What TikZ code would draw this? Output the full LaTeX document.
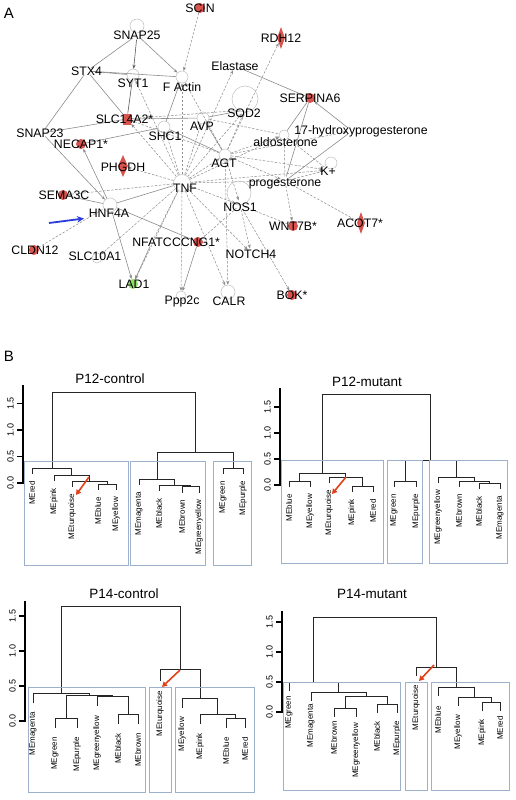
\documentclass[tikz,border=0pt]{standalone}
\usepackage{fontspec}
\setmainfont{Liberation Sans}
\usetikzlibrary{arrows.meta,backgrounds,shapes.geometric}
\definecolor{nodered}{HTML}{D9534F}
\definecolor{nodegreen}{HTML}{8FE06A}
\definecolor{boxblue}{HTML}{9DB1CC}
\definecolor{arrred}{HTML}{E0401A}
\definecolor{arrblue}{HTML}{2B3BE0}
\definecolor{edgegray}{HTML}{8C8C8C}
\newcommand{\mrg}[5]{\draw[dend] (#1,#2) |- (#3,#5) -- (#3,#4);}
\newcommand{\leaflab}[3]{\node[leaf] at (#1,#2) {#3};}
\newcommand{\dax}[6]{%
  \draw[axisl] (#1,#2+0.8) -- (#1,#6);
  \foreach \yy/\tklab in {#2/0.0,#3/0.5,#4/1.0,#5/1.5}{%
    \draw[black, line width=1.4pt] (#1-6,\yy) -- (#1,\yy);
    \node[tickl] at (#1-12.5,\yy) {\tklab};}}
\begin{document}
\begin{tikzpicture}[x=1pt,y=-1pt,
  hub/.style={circle, minimum size=9pt, inner sep=0pt},
  lbl/.style={font=\fontsize{12.3}{12.3}\selectfont, inner sep=0pt, text height=8.8pt, text depth=0pt},
  ringn/.style={circle, draw=gray!50, line width=0.5pt, inner sep=0pt},
  redn/.style={circle, fill=nodered, minimum size=10pt, inner sep=0pt},
  greenn/.style={circle, fill=nodegreen, minimum size=10pt, inner sep=0pt},
  reddiam/.style={diamond, fill=nodered, minimum width=8pt, minimum height=22pt, inner sep=0pt},
  sol/.style={draw=edgegray, line width=0.6pt},
  dsh/.style={draw=edgegray, line width=0.5pt, dash pattern=on 2.5pt off 1.5pt},
  arr/.style={-{Stealth[length=4pt,width=3pt]}},
  dend/.style={draw=black!85, line width=0.8pt},
  axisl/.style={draw=black, line width=1.9pt},
  tickl/.style={font=\fontsize{9}{9}\selectfont, rotate=90, inner sep=0pt},
  leaf/.style={font=\fontsize{8}{8}\selectfont, rotate=90, anchor=east, inner sep=0pt},
  ttl/.style={font=\fontsize{13.5}{13.5}\selectfont, inner sep=0pt},
  clbox/.style={draw=boxblue, line width=0.8pt},
  redarr/.style={draw=arrred, line width=1.6pt, -{Triangle[length=5pt,width=5.5pt]}},
  panel/.style={font=\fontsize{15}{15}\selectfont, inner sep=0pt}]
\useasboundingbox (0,0) rectangle (515,800);

% ---------------- panel A: network ----------------
\node[panel] (labA) at (9,13) {A};

% glyphs
\node[redn] (SCIN) at (200,8) {};
\node[redn] (SERPINA6) at (310,98) {};
\node[redn] (NECAP1) at (81,144) {};
\node[redn] (SEMA3C) at (63,195) {};
\node[redn] (CLDN12) at (34,250) {};
\node[redn] (CCNG1) at (198,242) {};
\node[redn] (WNT7B) at (293,226) {};
\node[redn] (BOK) at (292,295) {};
\node[greenn] (LAD1) at (133,284) {};
\node[reddiam] (RDH12) at (281,38) {};
\node[reddiam, minimum width=10pt] (PHGDH) at (123,166) {};
\node[reddiam] (ACOT7) at (361,223) {};
\node[rectangle, fill=nodered, minimum width=8pt, minimum height=11pt, inner sep=0pt] (SLC14A2) at (127,119) {};

\node[ringn, minimum size=12pt] (SYT1) at (133,75) {};
\node[ringn, minimum size=12pt] (FActin) at (182,77) {};
\node[ringn, minimum size=12pt] (AVP) at (203,118) {};
\node[ringn, minimum size=12pt] (SHC1) at (164,127) {};
\node[ringn, minimum size=12pt] (AGT) at (225,155) {};
\node[ringn, minimum size=17pt] (TNF) at (182,183) {};
\node[ringn, minimum size=14pt] (HNF4A) at (110,205) {};
\node[ringn, minimum size=14pt] (CALR) at (228,292) {};
\node[ringn, minimum size=10pt] (Ppp2c) at (181,296) {};
\node[ringn, minimum size=10pt] (aldo) at (284,135) {};
\node[ringn, minimum size=10pt] (SLC10A1) at (97,258) {};
\node[ringn, minimum size=14pt] (SNAP25loop) at (137,26) {};
\node[ringn, minimum size=26pt] (SOD2loop) at (245,99) {};
\node[ringn, minimum size=24pt] (NOS1loop) at (239,193) {};
\node[ringn, minimum size=12pt] (Kloop) at (331,163) {};

\node[hub] (SNAP25) at (137,35) {};
\node[hub] (STX4) at (87,71) {};
\node[hub] (Elastase) at (235,66) {};
\node[hub] (SOD2) at (245,110) {};
\node[hub] (HP17) at (352,131) {};
\node[hub] (SNAP23) at (42,133) {};
\node[hub] (Kp) at (328,170) {};
\node[hub] (prog) at (285,181) {};
\node[hub] (NOS1) at (240,205) {};
\node[hub] (NFATC) at (152,242) {};
\node[hub] (NOTCH4) at (251,253) {};

% labels
\node[lbl] (tSCIN) at (200,8) {SCIN};
\node[lbl] (tSNAP25) at (137,35) {SNAP25};
\node[lbl] (tRDH12) at (281,38) {RDH12};
\node[lbl] (tSTX4) at (86.5,71) {STX4};
\node[lbl] (tSYT1) at (133,83) {SYT1};
\node[lbl] (tFActin) at (182,87) {F Actin};
\node[lbl] (tElastase) at (235,66) {Elastase};
\node[lbl] (tSOD2) at (244,113) {SOD2};
\node[lbl] (tSERPINA6) at (310,98) {SERPINA6};
\node[lbl] (tHP17) at (361,130) {17-hydroxyprogesterone};
\node[lbl] (taldo) at (285.5,142) {aldosterone};
\node[lbl] (tSLC14A2) at (124.5,119) {SLC14A2*};
\node[lbl] (tAVP) at (202,126) {AVP};
\node[lbl] (tSHC1) at (165,136) {SHC1};
\node[lbl] (tSNAP23) at (40,133) {SNAP23};
\node[lbl] (tNECAP1) at (81,144) {NECAP1*};
\node[lbl] (tPHGDH) at (123,167) {PHGDH};
\node[lbl] (tAGT) at (224,163) {AGT};
\node[lbl] (tKp) at (328,171) {K+};
\node[lbl] (tprog) at (285,182) {progesterone};
\node[lbl] (tTNF) at (185,188) {TNF};
\node[lbl] (tNOS1) at (240,207) {NOS1};
\node[lbl] (tSEMA3C) at (64,195) {SEMA3C};
\node[lbl] (tHNF4A) at (109,213) {HNF4A};
\node[lbl] (tWNT7B) at (293,226) {WNT7B*};
\node[lbl] (tACOT7) at (360,223) {ACOT7*};
\node[lbl] (tCLDN12) at (35,250) {CLDN12};
\node[lbl] (tNFATC) at (152,242) {NFATC};
\node[lbl] (tCCNG1) at (196,242) {CCNG1*};
\node[lbl] (tNOTCH4) at (251,254) {NOTCH4};
\node[lbl] (tSLC10A1) at (95,256) {SLC10A1};
\node[lbl] (tLAD1) at (134,284) {LAD1};
\node[lbl] (tPpp2c) at (182,300) {Ppp2c};
\node[lbl] (tCALR) at (229,301) {CALR};
\node[lbl] (tBOK) at (292,295) {BOK*};

% blue arrow
\coordinate (bluetail) at (49,223);
\coordinate (bluehead) at (84,218.5);
\draw[arrblue, line width=1.8pt, -{Stealth[length=7pt,width=6.5pt]}] (bluetail) -- (bluehead);

\begin{scope}[on background layer]
\fill[white] (0,0) rectangle (515,800);
% solid edges
\draw[sol] (SNAP25) -- (STX4);
\draw[sol, arr, draw=gray!70!black] (SNAP25) -- (SYT1);
\draw[sol, arr] (SNAP25) -- (FActin);
\draw[sol] (STX4) -- (SYT1);
\draw[sol] (STX4) -- (FActin);
\draw[sol] (STX4) -- (SNAP23);
\draw[sol] (STX4) -- (SLC14A2);
\draw[sol, draw=gray!70!black] (SYT1) -- (SLC14A2);
\draw[sol] (SNAP23) -- (SLC14A2);
\draw[sol, arr] (SNAP23) -- (HNF4A);
\draw[sol, arr] (HNF4A) -- (NECAP1);
\draw[sol] (NECAP1) -- (SHC1);
\draw[sol] (SHC1) -- (FActin);
\draw[sol] (SLC14A2) -- (AVP);
\draw[sol] (AVP) -- (SOD2);
\draw[sol] (Elastase) -- (SERPINA6);
\draw[sol, arr] (HP17) -- (SERPINA6);
\draw[sol] (SERPINA6) -- (aldo);
\draw[sol] (SERPINA6) -- (prog);
\draw[sol] (HP17) -- (prog);
\draw[sol] (SHC1) -- (AGT);
\draw[sol] (SEMA3C) -- (HNF4A);
\draw[sol] (HNF4A) -- (CCNG1);
\draw[sol, arr] (HNF4A) -- (LAD1);
\draw[sol, arr] (NFATC) -- (LAD1);
\draw[sol, arr] (CCNG1) -- (Ppp2c);
\draw[sol] (AVP) -- (AGT);
\draw[sol] (TNF) -- (HNF4A);
% dashed edges
\draw[dsh, arr] (SCIN) -- (FActin);
\draw[dsh, arr] (AGT) -- (RDH12);
\foreach \tg in {Elastase,FActin,SYT1,SLC14A2,AVP,SOD2,aldo,prog,Kp,AGT,NOS1,NOTCH4,CALR,Ppp2c,SLC10A1,PHGDH,SEMA3C,LAD1,SHC1}
  \draw[dsh, arr] (TNF) -- (\tg);
\foreach \tg in {NOS1,CALR,aldo,prog,HP17,Kp,SOD2,SLC14A2,FActin}
  \draw[dsh, arr] (AGT) -- (\tg);
\draw[dsh, arr] (prog) -- (WNT7B);
\draw[dsh] (prog) -- (ACOT7);
\draw[dsh] (prog) -- (Kp);
\draw[dsh] (prog) -- (aldo);
\draw[dsh] (aldo) -- (Kp);
\draw[dsh, arr] (NOS1) -- (BOK);
\draw[dsh] (NOS1) -- (WNT7B);
\draw[dsh, arr] (NOS1) -- (NOTCH4);
\draw[dsh] (CCNG1) -- (NOS1);
\draw[dsh] (AVP) -- (aldo);
\draw[dsh] (CLDN12) -- (HNF4A);
\draw[dsh] (NFATC) -- (TNF);
\draw[dsh] (SLC14A2) -- (SOD2);
\end{scope}

% ---------------- panel B: dendrograms ----------------
\node[panel] (labB) at (9,356) {B};

% P12-control
\dax{23}{483}{456.5}{430}{403.5}{385}
\node[ttl] (t1) at (110,379) {P12-control};
\mrg{98}{490}{116}{490}{484}
\mrg{72}{487}{107}{484}{481}
\mrg{54}{481}{89.5}{481}{475}
\mrg{32}{474}{71.75}{475}{468}
\mrg{182}{492.5}{199}{492.5}{486.5}
\mrg{159}{491}{190.5}{486.5}{485}
\mrg{139}{485}{174.75}{485}{479}
\mrg{223}{474}{243}{474}{468}
\mrg{156.9}{479}{233}{468}{452}
\mrg{51.9}{468}{195}{452}{392}
\leaflab{32}{481}{MEred}
\leaflab{54}{488}{MEpink}
\leaflab{72}{494}{MEturquoise}
\leaflab{98}{497}{MEblue}
\leaflab{116}{497}{MEyellow}
\leaflab{139}{492}{MEmagenta}
\leaflab{159}{498}{MEblack}
\leaflab{182}{499.5}{MEbrown}
\leaflab{199}{499.5}{MEgreenyellow}
\leaflab{223}{481}{MEgreen}
\leaflab{243}{481}{MEpurple}
\draw[clbox] (24,461) rectangle (128,565);
\draw[clbox] (130,461) rectangle (205,565);
\draw[clbox] (213,461) rectangle (251,565);
\coordinate (r1s) at (89,477);
\coordinate (r1e) at (76,495);
\draw[redarr] (r1s) -- (r1e);

% P12-mutant
\dax{280}{485}{459}{433}{407}{388}
\node[ttl] (t2) at (367,382) {P12-mutant};
\mrg{289}{487}{310}{487}{481}
\mrg{352}{492}{373}{492}{486}
\mrg{329}{483}{362.5}{486}{477}
\mrg{299.5}{481}{345.75}{477}{473}
\mrg{394}{487}{416}{487}{481}
\mrg{479}{489}{500}{489}{483}
\mrg{459}{487}{489.5}{483}{481}
\mrg{438}{483}{474.25}{481}{477}
\mrg{405}{481}{456.1}{477}{460}
\mrg{322.6}{473}{430.6}{460}{394}
\leaflab{289}{494}{MEblue}
\leaflab{310}{494}{MEyellow}
\leaflab{329}{490}{MEturquoise}
\leaflab{352}{499}{MEpink}
\leaflab{373}{499}{MEred}
\leaflab{394}{494}{MEgreen}
\leaflab{416}{494}{MEpurple}
\leaflab{438}{490}{MEgreenyellow}
\leaflab{459}{494}{MEbrown}
\leaflab{479}{496}{MEblack}
\leaflab{500}{496}{MEmagenta}
\draw[clbox] (281,460) rectangle (383,563);
\draw[clbox] (387,460) rectangle (422,563);
\draw[clbox] (429,460) rectangle (507,563);
\coordinate (r2s) at (346,477);
\coordinate (r2e) at (332,494);
\draw[redarr] (r2s) -- (r2e);

% P14-control
\dax{25}{721}{686}{651}{616}{601}
\node[ttl] (t3) at (124,594) {P14-control};
\mrg{55}{728}{77}{728}{718}
\mrg{118}{724}{138}{724}{714}
\mrg{97}{706}{128}{714}{696}
\mrg{66}{718}{112.5}{696}{695}
\mrg{33}{703}{89.25}{695}{693}
\mrg{226}{728}{245}{728}{718}
\mrg{200}{724}{235.5}{718}{714}
\mrg{182}{708}{217.75}{714}{698}
\mrg{160}{681}{199.9}{698}{669}
\mrg{61.1}{693}{180}{669}{606}
\leaflab{33}{712}{MEmagenta}
\leaflab{55}{737}{MEgreen}
\leaflab{77}{737}{MEpurple}
\leaflab{97}{716}{MEgreenyellow}
\leaflab{118}{733}{MEblack}
\leaflab{138}{733}{MEbrown}
\leaflab{160}{691}{MEturquoise}
\leaflab{182}{717}{MEyellow}
\leaflab{200}{733}{MEpink}
\leaflab{226}{737}{MEblue}
\leaflab{245}{737}{MEred}
\draw[clbox] (28,687) rectangle (145,792);
\draw[clbox] (149,687) rectangle (171,792);
\draw[clbox] (175,687) rectangle (254,792);
\coordinate (r3s) at (180,670);
\coordinate (r3e) at (162,687);
\draw[redarr] (r3s) -- (r3e);

% P14-mutant
\dax{282}{712}{682}{652}{622}{611}
\node[ttl] (t4) at (372,594) {P14-mutant};
\mrg{334}{717}{356}{717}{708}
\mrg{377}{713}{397}{713}{704}
\mrg{345}{708}{387}{704}{696}
\mrg{311}{701}{366}{696}{692}
\mrg{289}{691}{338.5}{692}{682}
\mrg{482}{711}{500}{711}{702}
\mrg{458}{706}{491}{702}{697}
\mrg{438}{696}{474.5}{697}{687}
\mrg{416}{676}{456.25}{687}{667}
\mrg{313.75}{682}{436.1}{667}{617}
\leaflab{289}{696}{MEgreen}
\leaflab{311}{704}{MEmagenta}
\leaflab{334}{721}{MEbrown}
\leaflab{356}{723}{MEgreenyellow}
\leaflab{377}{721}{MEblack}
\leaflab{397}{721}{MEpurple}
\leaflab{416}{685}{MEturquoise}
\leaflab{438}{706}{MEblue}
\leaflab{458}{715}{MEyellow}
\leaflab{482}{719}{MEpink}
\leaflab{500}{716}{MEred}
\draw[clbox] (283,682) rectangle (400,790);
\draw[clbox] (405,682) rectangle (427,790);
\draw[clbox] (431,682) rectangle (509,790);
\coordinate (r4s) at (434,665);
\coordinate (r4e) at (419,681);
\draw[redarr] (r4s) -- (r4e);
\end{tikzpicture}
\end{document}
